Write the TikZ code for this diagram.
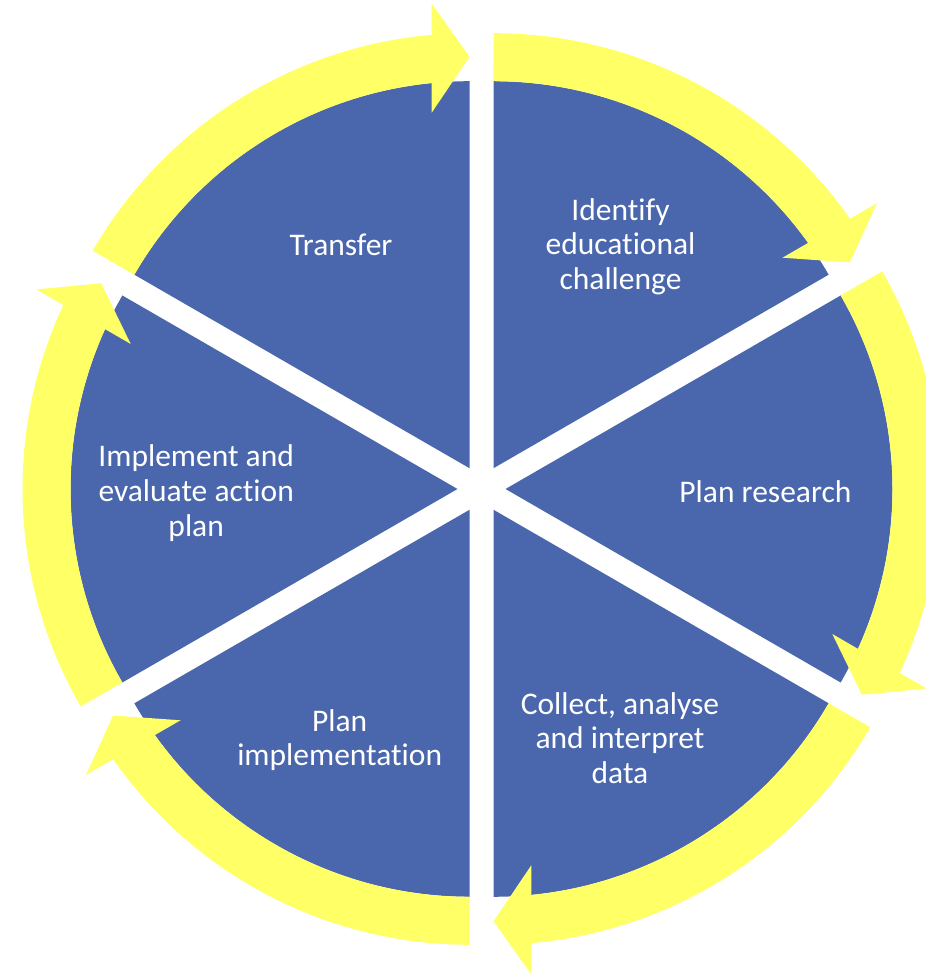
\documentclass[tikz,border=0pt]{standalone}
\usepackage{fontspec}
\setmainfont{Carlito}[Ligatures={NoCommon,NoContextual},RawFeature={-calt}]
\definecolor{segblue}{RGB}{74,103,173}
\definecolor{arrowyellow}{RGB}{255,255,102}
\newcommand{\mystrut}{\rule[-10pt]{0pt}{34.6pt}}
\newcommand{\nolig}{\kern0pt}
\begin{document}
\begin{tikzpicture}[x=1pt,y=1pt,
  segment/.style={fill=segblue,draw=none},
  cyclearrow/.style={fill=arrowyellow,draw=none},
  steplabel/.style={text=white,align=center,inner sep=0pt,anchor=center,
    font=\fontsize{31.5}{34.8}\selectfont}]
\useasboundingbox[fill=white] (0,0) rectangle (925,973);
\coordinate (O) at (481.5,484);
% six exploded segments, each with its clockwise arrow
\foreach \b in {60,0,-60,-120,180,120}{
  \begin{scope}[shift={(O)},shift={(\b:24)},rotate=\b-120]
    \fill[segment] (0,0) -- (90:387) arc[start angle=90,end angle=150,radius=387] -- cycle;
    \fill[cyclearrow] (150:435) arc[start angle=150,end angle=94.98,radius=435]
      -- (-37.8,464.5) -- (0,411.5) -- (-37.8,355.5) -- (-37.8,385.1)
      arc[start angle=95.61,end angle=150,radius=387] -- cycle;
  \end{scope}
}
\node[steplabel] (identify) at (620.5,725.3) {\mystrut Identif\nolig y\\\mystrut educat\nolig ional\\\mystrut challenge};
\node[steplabel] (research) at (765.4,478) {\mystrut Plan research};
\node[steplabel] (collect) at (620,231.3) {\mystrut Collect, analyse\\\mystrut and interpret\\\mystrut data};
\node[steplabel] (planimpl) at (339.7,231.8) {\mystrut Plan\\\mystrut implementat\nolig ion};
\node[steplabel] (implement) at (196.2,478.5) {\mystrut Implement and\\\mystrut evaluate act\nolig ion\\\mystrut plan};
\node[steplabel] (transfer) at (341,724.3) {\mystrut Transfer};
\end{tikzpicture}
\end{document}
